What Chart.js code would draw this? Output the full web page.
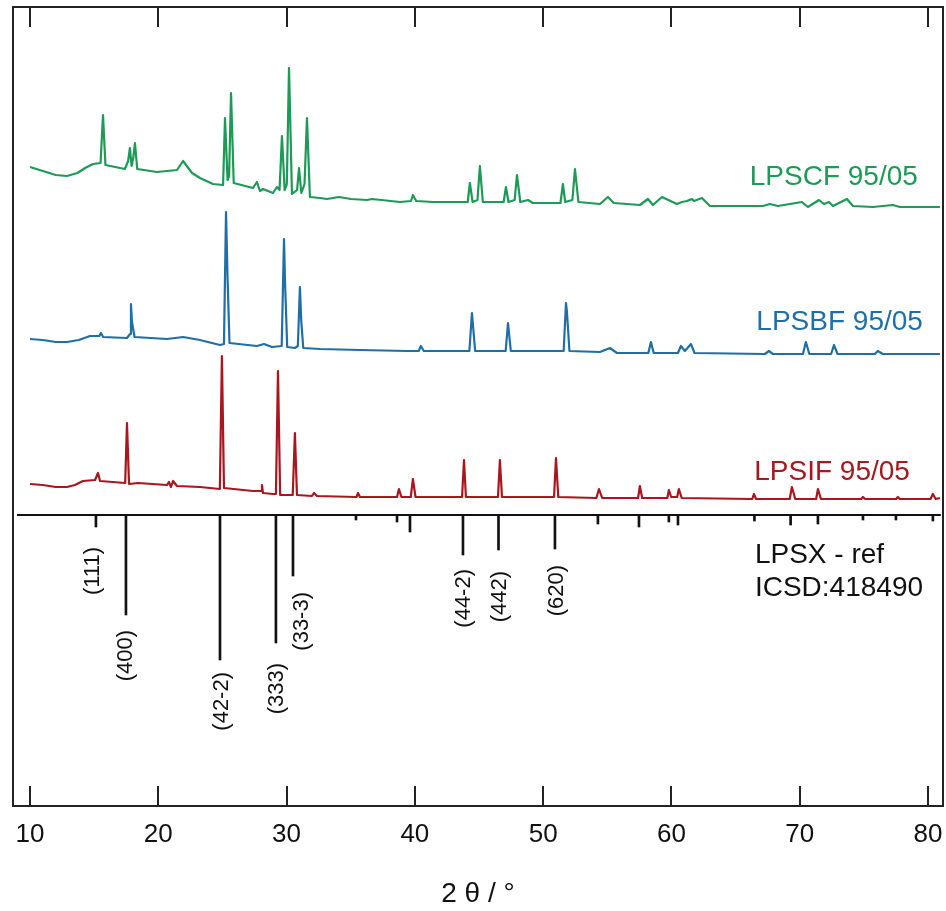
<!DOCTYPE html>
<html><head><meta charset="utf-8">
<script src="https://cdn.jsdelivr.net/npm/chart.js@4.4.1/dist/chart.umd.min.js"></script>
<style>html,body{margin:0;padding:0;background:#fff;} #wrap{width:946px;height:911px;}</style>
</head><body><div id="wrap"><canvas id="c" width="946" height="911"></canvas></div>
<script>
// ---- data (2θ in degrees, intensity in arbitrary stacked units) ----
const xTicks = [10, 20, 30, 40, 50, 60, 70, 80];
const seriesNames = ['LPSCF 95/05', 'LPSBF 95/05', 'LPSIF 95/05'];
const refName = ['LPSX - ref', 'ICSD:418490'];

const lpscf = [
 [10.00,639],[11.00,635],[12.00,631],[12.88,630],[13.70,633],[14.30,638],[14.91,642],[15.50,643],[15.69,691],[15.88,641],[17.40,637],
 [17.65,645],[17.79,658],[17.92,640],[18.05,648],[18.18,663],[18.36,637],[19.90,634],[21.46,636],[21.93,645],
 [22.63,633],[23.25,628],[24.26,622],[25.05,621],[25.20,688],[25.40,626],[25.52,630],[25.67,713],[25.88,623],
 [27.38,618],[27.69,624],[27.93,615],[28.16,617],[28.94,613],[29.25,619],[29.45,616],[29.64,670],[29.85,616],
 [30.02,622],[30.19,738],[30.42,612],[30.82,616],[30.97,638],[31.15,613],[31.40,622],[31.59,688],[31.82,609],
 [32.60,608],[33.15,607],[34.08,609],[35.02,607],[36.27,606],[36.66,607],[38.84,604],[39.70,605],[39.85,611],
 [40.10,605],[41.41,604],[44.12,604],[44.29,623],[44.50,604],[44.88,606],[45.07,640],[45.30,604],[46.92,604],
 [47.10,619],[47.30,604],[47.78,606],[47.96,631],[48.22,604],[48.82,606],[49.20,603],[51.35,603],[51.54,622],
 [51.72,604],[52.28,606],[52.48,637],[52.75,604],[54.43,602],[55.05,609],[55.50,603],[57.54,601],[58.17,607],
 [58.56,601],[59.26,609],[60.43,602],[60.82,604],[61.21,605],[61.60,607],[61.75,605],[62.38,608],[63.00,600],
 [67.13,600],[67.68,602],[68.30,600],[70.17,604],[70.64,599],[71.50,606],[71.89,602],[72.28,604],[72.59,600],
 [73.68,607],[74.15,600],[75.71,599],[77.26,601],[77.81,599],[80.93,599]
];
const lpsbf = [
 [10.00,467],[11.00,466],[12.00,464],[12.88,464],[13.80,466],[14.68,470],[15.40,470],[15.53,473],[15.70,469],[17.56,468],[17.80,472],
 [17.87,502],[17.95,484],[18.15,469],[20.68,467],[21.93,469],[23.25,466],[24.81,461],[25.12,462],[25.28,594],
 [25.40,528],[25.55,463],[27.69,460],[28.24,462],[28.86,459],[29.62,460],[29.80,567],[29.88,524],[30.05,459],
 [30.65,458],[30.88,460],[31.04,519],[31.14,486],[31.30,458],[32.60,457],[35.72,456],[39.38,455],[40.30,455],
 [40.47,460],[40.70,455],[44.25,455],[44.45,493],[44.70,455],[47.08,455],[47.26,483],[47.48,455],[51.60,455],
 [51.78,503],[51.85,495],[52.05,455],[54.43,454],[55.21,458],[55.75,453],[58.20,453],[58.40,464],[58.62,453],
 [60.51,453],[60.74,460],[61.05,455],[61.52,462],[61.80,453],[67.29,452],[67.60,455],[67.91,452],[70.25,452],
 [70.48,464],[70.75,452],[72.45,452],[72.67,461],[72.95,452],[75.86,452],[76.09,455],[76.48,452],[80.93,452]
];
const lpsif = [
 [10.00,322],[11.00,321],[12.00,319],[12.88,319],[13.50,321],[14.13,325],[15.07,326],[15.30,333],[15.46,325],[17.42,323],[17.56,383],
 [17.72,322],[18.42,323],[20.68,321],[20.83,324],[20.99,319],[21.15,325],[21.46,320],[23.25,319],[24.80,317],
 [24.96,450],[25.12,318],[27.38,315],[28.02,315],[28.08,321],[28.16,313],[28.94,312],[29.17,312],[29.33,435],
 [29.50,311],[30.48,311],[30.65,373],[30.81,311],[31.98,310],[32.14,313],[32.37,310],[35.45,309],[35.57,313],
 [35.72,309],[38.61,309],[38.76,317],[38.95,309],[39.68,309],[39.85,327],[40.05,309],[43.68,309],[43.83,346],
 [43.98,309],[46.48,309],[46.63,346],[46.79,309],[50.85,309],[51.00,348],[51.18,309],[54.15,308],[54.35,317],
 [54.60,308],[57.40,308],[57.54,320],[57.72,308],[59.68,308],[59.80,316],[59.98,309],[60.45,309],[60.58,317],
 [60.80,308],[66.30,307],[66.43,312],[66.60,307],[69.22,307],[69.39,319],[69.65,307],[71.28,307],[71.42,317],
 [71.65,307],[74.80,307],[74.93,309],[75.10,307],[77.52,307],[77.65,309],[77.80,307],[80.20,307],[80.38,312],
 [80.60,307],[80.93,308]
];

// reference stick pattern (pointing down from its baseline)
const refBaseline = 291;
const refSpan = [8.99, 81.0];
const refPos = [15.14, 17.48, 24.81, 29.17, 30.50, 35.41, 38.61, 39.62, 43.75, 46.52, 50.92,
                54.27, 57.47, 59.80, 60.51, 66.47, 69.29, 71.42, 74.93, 77.50, 80.38];
const refTip = [279, 191, 146, 163, 230, 286, 284, 274, 251, 256, 257,
                282, 279, 284, 281, 285, 281, 282, 286, 286, 285];
const hklLabels = ['(111)', '(400)', '(42-2)', '(333)', '(33-3)', '(44-2)', '(442)', '(620)'];
const hklIndex = [0, 1, 2, 3, 4, 8, 9, 10];

// ---- chart ----
const FONT = "'Liberation Sans', Arial, Helvetica, sans-serif";
const cGreen = '#1c9a56', cBlue = '#1f6fa6', cRed = '#a8161e', cBlack = '#111111';

const toPts = arr => arr.map(p => ({x: p[0], y: p[1]}));

const annot = {
  id: 'annot',
  afterDraw(chart, args, o) {
    const ctx = chart.ctx, xs = chart.scales.x, ys = chart.scales.y, a = chart.chartArea;
    ctx.save();
    ctx.strokeStyle = '#222'; ctx.lineWidth = 2;
    ctx.strokeRect(a.left, a.top, a.right - a.left, a.bottom - a.top);
    xTicks.forEach(v => {
      const px = Math.round(xs.getPixelForValue(v));
      ctx.beginPath();
      ctx.moveTo(px, a.bottom); ctx.lineTo(px, a.bottom - o.tickLen);
      ctx.moveTo(px, a.top); ctx.lineTo(px, a.top + o.tickLen);
      ctx.stroke();
    });
    ctx.font = o.labelSize + 'px ' + FONT;
    ctx.textBaseline = 'middle';
    ctx.textAlign = 'right';
    o.seriesLabels.forEach((s, i) => {
      ctx.fillStyle = s.color;
      ctx.fillText(seriesNames[i], xs.getPixelForValue(s.x), ys.getPixelForValue(s.y));
    });
    ctx.textAlign = 'left';
    ctx.fillStyle = cBlack;
    refName.forEach((t, i) => {
      ctx.fillText(t, xs.getPixelForValue(o.refLabel.x), ys.getPixelForValue(o.refLabel.y[i]));
    });
    ctx.font = o.hklSize + 'px ' + FONT;
    hklLabels.forEach((t, i) => {
      const k = hklIndex[i];
      const px = xs.getPixelForValue(refPos[k]) + o.hklDx[i];
      const py = ys.getPixelForValue(refTip[k]) + o.hklGap[i];
      ctx.save();
      ctx.translate(px, py);
      ctx.rotate(-Math.PI / 2);
      ctx.textAlign = 'right';
      ctx.textBaseline = 'middle';
      ctx.fillText(t, 0, 0);
      ctx.restore();
    });
    ctx.restore();
  }
};

const lineDs = (data, color) => ({
  type: 'scatter', data: toPts(data), showLine: true, borderColor: color, borderWidth: 2.2,
  pointRadius: 0, tension: 0, fill: false, borderJoinStyle: 'round'
});

new Chart(document.getElementById('c'), {
  type: 'scatter',
  data: {
    datasets: [
      lineDs(lpscf, cGreen),
      lineDs(lpsbf, cBlue),
      lineDs(lpsif, cRed),
      lineDs(refSpan.map(x => [x, refBaseline]), cBlack),
      { type: 'bar', data: refPos.map((x, i) => ({x: x, y: [refBaseline, refTip[i]]})),
        backgroundColor: cBlack, borderWidth: 0, barThickness: 2, grouped: false }
    ]
  },
  options: {
    responsive: false, animation: false, devicePixelRatio: 1,
    layout: { padding: { left: 13, right: 3, top: 7, bottom: 0 } },
    scales: {
      x: {
        type: 'linear', min: 8.675, max: 81.169, offset: false,
        grid: { display: false, drawTicks: false }, border: { display: false },
        ticks: { padding: 13, color: cBlack, font: { family: FONT, size: 26 }, autoSkip: false, maxRotation: 0 },
        afterBuildTicks: s => { s.ticks = xTicks.map(v => ({ value: v })); },
        afterFit: s => { s.height = 105; s.paddingLeft = 0; s.paddingRight = 0; },
        title: { display: true, text: '2 θ / °', color: cBlack, font: { family: FONT, size: 28 }, padding: 0 }
      },
      y: { type: 'linear', display: false, min: 0, max: 799 }
    },
    plugins: {
      legend: { display: false }, tooltip: { enabled: false },
      annot: {
        tickLen: 20, labelSize: 28, hklSize: 22,
        seriesLabels: [
          { x: 79.21, y: 629, color: cGreen },
          { x: 79.60, y: 484, color: cBlue },
          { x: 78.59, y: 334, color: cRed }
        ],
        refLabel: { x: 66.51, y: [251, 218] },
        hklGap: [20, 15, 12, 20, 16, 14, 21, 16],
        hklDx: [-3, 0, 2, 1, 9, 1, 1, 2]
      }
    }
  },
  plugins: [annot]
});
</script></body></html>
